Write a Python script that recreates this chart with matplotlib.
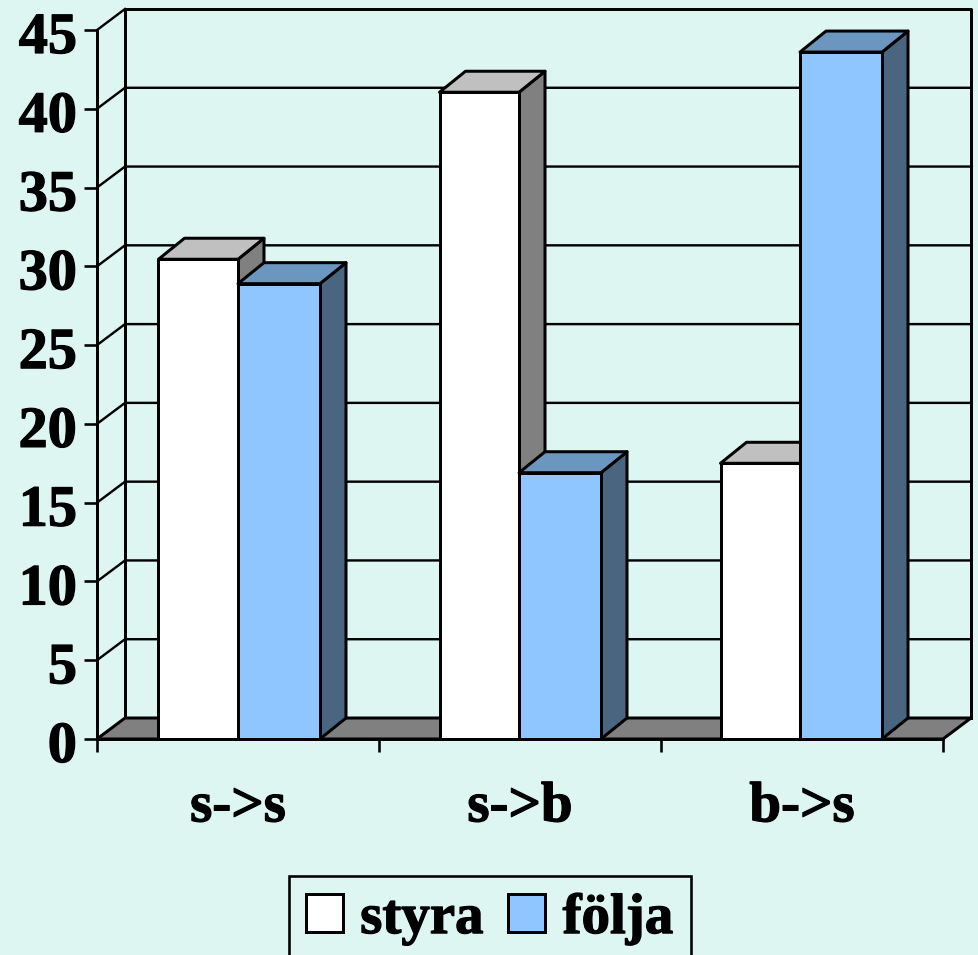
import matplotlib
matplotlib.use("Agg")
import matplotlib.pyplot as plt
from matplotlib.patches import Polygon, Patch
from matplotlib.transforms import ScaledTranslation
import matplotlib.patheffects as pe

categories = ["s->s", "s->b", "b->s"]
styra = [30.45, 41.05, 17.5]
folja = [28.9, 16.9, 43.6]
y_ticks = [0, 5, 10, 15, 20, 25, 30, 35, 40, 45]

BG = "#DDF6F1"
W, H = 979, 955
PX = 0.72  # one pixel in points at dpi 100

plt.rcParams["font.family"] = ["Liberation Serif", "DejaVu Serif"]
plt.rcParams["font.weight"] = "bold"
plt.rcParams["font.size"] = 41

fig = plt.figure(figsize=(W / 100, H / 100), dpi=100, facecolor=BG)
# front plane of the fake 3d box, in pixels
left, right, base, top = 97, 943, 739, 30
ax = fig.add_axes([left / W, 1 - base / H, (right - left) / W, (base - top) / H])
ax.set_xlim(0, 3)
ax.set_ylim(0, 45)
ax.patch.set_alpha(0)

sx = 3 / (right - left)
sy = 45 / (base - top)
heavy = [pe.withStroke(linewidth=0.9, foreground="black")]


def shifted(pts, dx, dy):
    # move data points by an offset given in pixels
    return [(x + dx * sx, y + dy * sy) for x, y in pts]


def draw_bar(x0, x1, val, front, roof, side, z):
    d = (26, 21)
    kw = dict(ec="black", lw=3 * PX, zorder=z, clip_on=False, joinstyle="round")
    ax.add_patch(Polygon([(x1, 0), (x1, val)] + shifted([(x1, val), (x1, 0)], *d), fc=side, **kw))
    ax.add_patch(Polygon([(x0, val), (x1, val)] + shifted([(x1, val), (x0, val)], *d), fc=roof, **kw))
    ax.add_patch(Polygon([(x0, 0), (x1, 0), (x1, val), (x0, val)], fc=front, **kw))


# walls and grid
dw = (28, 21)
for v in y_ticks[1:-1]:
    ax.plot(*zip(*[(0, v)] + shifted([(0, v), (3, v)], *dw)), color="black", lw=2.4 * PX,
            zorder=1, clip_on=False)
ax.plot(*zip(*[(0, 45)] + shifted([(0, 45)], *dw)), color="black", lw=2.4 * PX, zorder=1, clip_on=False)
ax.plot(*zip(*shifted([(3, 0), (3, 45), (0, 45), (0, 0), (3, 0)], *dw)), color="black",
        lw=3 * PX, zorder=1, clip_on=False)
ax.add_patch(Polygon([(0, 0), (3, 0)] + shifted([(3, 0), (0, 0)], *dw), fc="#808080", ec="black",
                     lw=3 * PX, zorder=1.5, clip_on=False))

# bars
for i in range(len(categories)):
    c = 0.5 + i * 0.9965
    draw_bar(c - 79.5 * sx, c, styra[i], "white", "#C0C0C0", "#808080", 2 + i * 0.1)
    draw_bar(c, c + 82 * sx, folja[i], "#8FC6FF", "#6B96BF", "#4A6580", 2.05 + i * 0.1)

for s in ["top", "right"]:
    ax.spines[s].set_visible(False)
for s in ["left", "bottom"]:
    ax.spines[s].set_linewidth(3 * PX)
    ax.spines[s].set_zorder(3)

ax.set_yticks(y_ticks)
ax.set_xticks([0, 1, 2, 3])
ax.set_xticklabels([])
ax.set_xticks([0.5, 1.5, 2.5], minor=True)
ax.set_xticklabels(categories, minor=True)
ax.tick_params(axis="x", which="major", length=13 * PX, width=2.6 * PX)
ax.tick_params(axis="x", which="minor", length=0, pad=30.5)
ax.tick_params(axis="y", length=13 * PX, width=2.6 * PX, pad=7 * PX, labelsize=42)
for t in ax.get_yticklabels():
    # labels sit a little under their tick in the original
    t.set_transform(t.get_transform() + ScaledTranslation(0, -3 / 100, fig.dpi_scale_trans))
for t in ax.get_yticklabels() + ax.get_xticklabels(minor=True):
    t.set_path_effects(heavy)

handles = [Patch(fc="white", ec="black", lw=3 * PX, label="styra"),
           Patch(fc="#8FC6FF", ec="black", lw=3 * PX, label="följa")]
leg = fig.legend(handles=handles, loc="upper left", bbox_to_anchor=(289 / W, 1 - 876 / H),
                 borderaxespad=0, ncols=2, fancybox=False, framealpha=1, facecolor=BG,
                 edgecolor="black", handlelength=0.65, handleheight=0.65, handletextpad=0.3,
                 columnspacing=0.44, borderpad=0.3)
leg.get_frame().set_linewidth(2.6 * PX)
for t in leg.get_texts():
    t.set_path_effects(heavy)

fig.savefig("out.png", dpi=100, facecolor=BG)
